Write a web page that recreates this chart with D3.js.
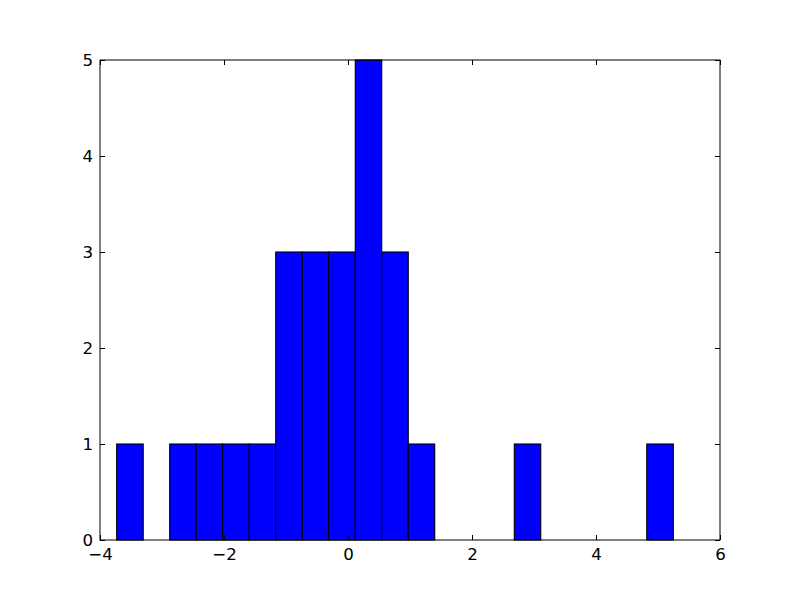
<!DOCTYPE html>
<html><head><meta charset="utf-8">
<script src="https://cdn.jsdelivr.net/npm/d3@7"></script>
<style>body{margin:0;background:#fff}svg{display:block}</style>
</head><body>
<svg id="c" width="800" height="600"></svg>
<script>
const binEdges = [-3.731,-3.303,-2.876,-2.448,-2.021,-1.593,-1.166,-0.738,-0.311,0.117,0.544,0.972,1.399,1.827,2.254,2.682,3.109,3.537,3.964,4.392,4.819,5.247];
const counts = [1,0,1,1,1,1,3,3,3,5,3,1,0,0,0,1,0,0,0,0,1];
const xTicks = [-4,-2,0,2,4,6];
const yTicks = [0,1,2,3,4,5];

const svg = d3.select("#c");
const L=100,R=720,T=60,B=540;
const x = d3.scaleLinear().domain([-4,6]).range([L,R]);
const y = d3.scaleLinear().domain([0,5]).range([B,T]);
const bins = counts.map((c,i)=>({x0:binEdges[i],x1:binEdges[i+1],c}));

svg.append("g").selectAll("rect").data(bins.filter(d=>d.c>0)).join("rect")
  .attr("x",d=>x(d.x0)).attr("width",d=>x(d.x1)-x(d.x0))
  .attr("y",d=>y(d.c)).attr("height",d=>y(0)-y(d.c))
  .attr("fill","#0000ff").attr("stroke","#000").attr("stroke-width",1.1);

const fmt = v => v<0 ? "\u2212"+Math.abs(v) : String(v);
const font = "DejaVu Sans";
const tl = 5;
function styleAxis(g){
  g.select(".domain").remove();
  g.selectAll("line").attr("stroke","#000").attr("stroke-width",1);
  g.selectAll("text").style("font-family",font).style("font-size","16.67px").attr("fill","#000");
}
svg.append("g").attr("transform",`translate(0,${B})`)
  .call(d3.axisBottom(x).tickValues(xTicks).tickFormat(fmt).tickSizeInner(-tl).tickSizeOuter(0).tickPadding(8))
  .call(styleAxis);
svg.append("g").attr("transform",`translate(0,${T})`)
  .call(d3.axisTop(x).tickValues(xTicks).tickFormat("").tickSizeInner(-tl).tickSizeOuter(0))
  .call(styleAxis);
svg.append("g").attr("transform",`translate(${L},0)`)
  .call(d3.axisLeft(y).tickValues(yTicks).tickFormat(fmt).tickSizeInner(-tl).tickSizeOuter(0).tickPadding(7))
  .call(styleAxis);
svg.append("g").attr("transform",`translate(${R},0)`)
  .call(d3.axisRight(y).tickValues(yTicks).tickFormat("").tickSizeInner(-tl).tickSizeOuter(0))
  .call(styleAxis);

svg.append("rect").attr("x",L).attr("y",T).attr("width",R-L).attr("height",B-T)
  .attr("fill","none").attr("stroke","#000").attr("stroke-width",1);
</script>
</body></html>
